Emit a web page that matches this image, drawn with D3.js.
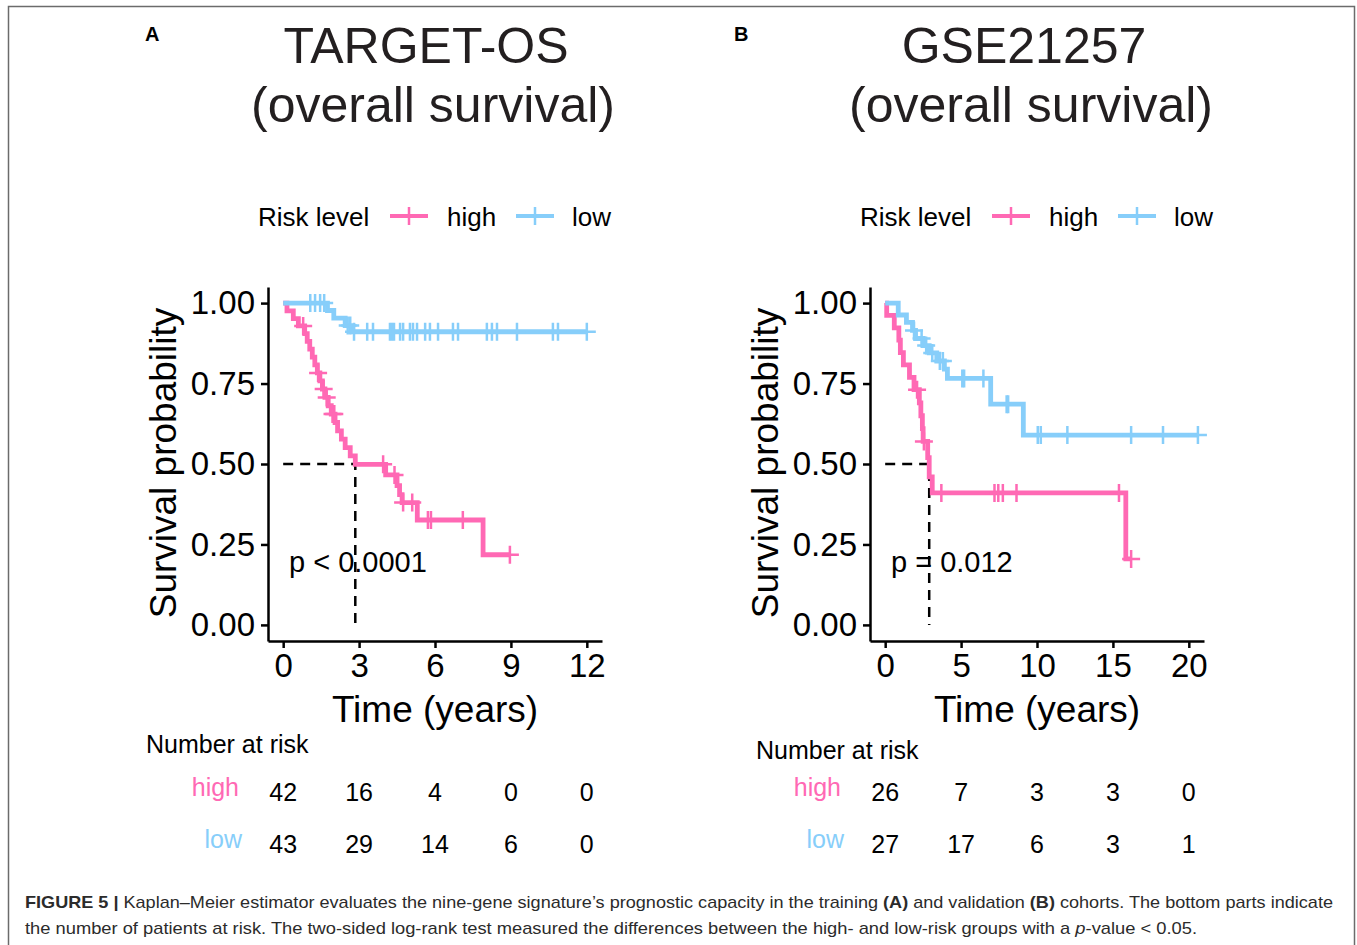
<!DOCTYPE html>
<html><head><meta charset="utf-8">
<script src="https://cdn.jsdelivr.net/npm/d3@7/dist/d3.min.js"></script>
<style>body{margin:0;background:#fff}svg{display:block}text{font-family:"Liberation Sans",Arial,Helvetica,sans-serif}</style>
</head><body><svg id="c" width="1357" height="945"></svg>
<script>
// ---------- DATA ----------
const groups = ["high", "low"];
const survTicks = [0, 0.25, 0.5, 0.75, 1];
const survTickLabels = ["0.00", "0.25", "0.50", "0.75", "1.00"];

// Panel A: TARGET-OS
const timeTicksA = [0, 3, 6, 9, 12];
const highA_time = [0, 0.15, 0.4, 0.6, 0.85, 0.95, 1.05, 1.15, 1.25, 1.35, 1.45, 1.55, 1.65, 1.78, 1.9, 2.05, 2.15, 2.3, 2.45, 2.65, 2.85, 4.05, 4.5, 4.6, 4.7, 5.3, 7.9];
const highA_surv = [1, 0.976, 0.952, 0.929, 0.905, 0.881, 0.857, 0.832, 0.808, 0.783, 0.758, 0.733, 0.707, 0.681, 0.655, 0.629, 0.603, 0.577, 0.551, 0.525, 0.499, 0.466, 0.433, 0.405, 0.38, 0.326, 0.218];
const highA_end = 8.96;
const highA_censor = [0.79, 1.38, 1.6, 1.72, 1.95, 2.02, 3.95, 4.4, 4.74, 5.1, 5.72, 5.84, 7.1, 8.96];
const lowA_time = [0, 1.75, 2.0, 2.45, 2.75];
const lowA_surv = [1, 0.977, 0.953, 0.93, 0.911];
const lowA_end = 12.0;
const lowA_censor = [1.07, 1.26, 1.46, 1.62, 2.55, 2.65, 2.8, 3.32, 3.55, 4.22, 4.3, 4.38, 4.62, 4.74, 5.01, 5.13, 5.29, 5.61, 5.8, 6.12, 6.71, 6.91, 8.05, 8.25, 8.45, 9.24, 10.66, 10.86, 12.0];
const riskA_high = [42, 16, 4, 0, 0];
const riskA_low = [43, 29, 14, 6, 0];
const pTextA = "p < 0.0001";

// Panel B: GSE21257
const timeTicksB = [0, 5, 10, 15, 20];
const highB_time = [0, 0.1, 0.6, 0.9, 1.0, 1.2, 1.6, 1.9, 2.25, 2.35, 2.45, 2.5, 2.8, 2.9, 3.1, 15.85];
const highB_surv = [1, 0.962, 0.923, 0.885, 0.846, 0.808, 0.769, 0.731, 0.69, 0.65, 0.61, 0.57, 0.52, 0.46, 0.41, 0.205];
const highB_end = 16.2;
const highB_censor = [2.1, 2.55, 3.7, 7.2, 7.45, 7.75, 8.65, 15.4, 16.2];
const lowB_time = [0, 0.86, 1.4, 1.8, 2.0, 2.5, 2.9, 3.4, 3.9, 4.1, 6.95, 9.1];
const lowB_surv = [1, 0.963, 0.94, 0.915, 0.89, 0.868, 0.845, 0.82, 0.795, 0.766, 0.686, 0.59];
const lowB_end = 20.6;
const lowB_censor = [1.9, 2.4, 2.7, 3.1, 3.6, 3.8, 5.08, 5.2, 6.47, 8.0, 8.1, 10.05, 10.25, 12.0, 16.2, 18.3, 20.6];
const riskB_high = [26, 7, 3, 3, 0];
const riskB_low = [27, 17, 6, 3, 1];
const pTextB = "p = 0.012";

const colors = {high: "#FF69B4", low: "#87CEFA"};

// ---------- DRAW ----------
const svg = d3.select("#c");
svg.append("rect").attr("x", 8.5).attr("y", 6.5).attr("width", 1346).attr("height", 980)
  .attr("fill", "none").attr("stroke", "#6b6b6b").attr("stroke-width", 1.5);

function survAt(times, survs, t) {
  let s = survs[0];
  for (let i = 0; i < times.length; i++) if (times[i] <= t) s = survs[i];
  return s;
}

function panel(cfg) {
  const g = svg.append("g").attr("transform", `translate(${cfg.dx},0)`);
  const x = d3.scaleLinear().domain(cfg.xdom).range([268, 602]);
  const y = d3.scaleLinear().domain([-0.05, 1.05]).range([641, 287]);

  g.append("text").attr("x", cfg.letterX).attr("y", 41).attr("font-size", 20).attr("font-weight", "bold").text(cfg.letter);
  g.append("text").attr("x", cfg.t1x).attr("y", 63).attr("font-size", 50).attr("fill", "#231f20").attr("text-anchor", "middle").text(cfg.title1);
  g.append("text").attr("x", cfg.t2x).attr("y", 122).attr("font-size", 50).attr("fill", "#231f20").attr("text-anchor", "middle").text("(overall survival)");

  // legend
  const lg = g.append("g");
  lg.append("text").attr("x", 258).attr("y", 226).attr("font-size", 26).text("Risk level");
  const keyX = {high: 390, low: 516}, labX = {high: 447, low: 572};
  groups.forEach(k => {
    lg.append("line").attr("x1", keyX[k]).attr("x2", keyX[k] + 38).attr("y1", 216).attr("y2", 216)
      .attr("stroke", colors[k]).attr("stroke-width", 4);
    lg.append("line").attr("x1", keyX[k] + 19).attr("x2", keyX[k] + 19).attr("y1", 207).attr("y2", 225)
      .attr("stroke", colors[k]).attr("stroke-width", 2.5);
    lg.append("text").attr("x", labX[k]).attr("y", 226).attr("font-size", 26).text(k);
  });

  // axes
  const yAxis = d3.axisLeft(y).tickValues(survTicks).tickFormat((d, i) => survTickLabels[i]).tickSize(7).tickSizeOuter(0).tickPadding(6);
  const ya = g.append("g").attr("transform", "translate(268,0)").call(yAxis);
  ya.selectAll("text").attr("font-size", 33).attr("fill", "#000").attr("font-family", '"Liberation Sans",Arial,sans-serif');
  const xAxis = d3.axisBottom(x).tickValues(cfg.ticks).tickSize(7).tickSizeOuter(0).tickPadding(6);
  const xa = g.append("g").attr("transform", "translate(0,641)").call(xAxis);
  xa.selectAll("text").attr("font-size", 33).attr("fill", "#000").attr("font-family", '"Liberation Sans",Arial,sans-serif');
  [ya, xa].forEach(a => {
    a.select(".domain").attr("stroke", "#000").attr("stroke-width", 2.5);
    a.selectAll(".tick line").attr("stroke", "#000").attr("stroke-width", 2.5);
  });

  g.append("text").attr("transform", "translate(176,463) rotate(-90)").attr("text-anchor", "middle")
    .attr("font-size", 37).text("Survival probability");
  g.append("text").attr("x", 435).attr("y", 722).attr("text-anchor", "middle").attr("font-size", 37).text("Time (years)");

  // median dashed lines
  const med = cfg.high.time.find((t, i) => cfg.high.surv[i] <= 0.5);
  g.append("path").attr("d", `M${x(0)},${y(0.5)}H${x(med)}V${y(0)}`).attr("fill", "none")
    .attr("stroke", "#000").attr("stroke-width", 2.5).attr("stroke-dasharray", "10,7");

  // curves
  const line = d3.line().x(d => x(d[0])).y(d => y(d[1])).curve(d3.curveStepAfter);
  groups.forEach(k => {
    const c = cfg[k];
    const pts = c.time.map((t, i) => [t, c.surv[i]]);
    pts.push([c.end, c.surv[c.surv.length - 1]]);
    g.append("path").attr("d", line(pts)).attr("fill", "none").attr("stroke", colors[k]).attr("stroke-width", 4.8);
    g.append("g").selectAll("path").data(c.censor).join("path")
      .attr("d", t => { const cx = x(t), cy = y(survAt(c.time, c.surv, t)); return `M${cx - 9},${cy}H${cx + 9}M${cx},${cy - 9}V${cy + 9}`; })
      .attr("stroke", colors[k]).attr("stroke-width", 2.5).attr("fill", "none");
  });

  g.append("text").attr("x", 289).attr("y", 572).attr("font-size", 29).text(cfg.p);

  // risk table
  g.append("text").attr("x", cfg.narx).attr("y", cfg.nary).attr("font-size", 25).text("Number at risk");
  const rows = [{k: "high", v: cfg.riskHigh, y: 801, ly: 796, lx: 239}, {k: "low", v: cfg.riskLow, y: 853, ly: 848, lx: 242}];
  rows.forEach(r => {
    g.append("text").attr("x", r.lx).attr("y", r.ly).attr("text-anchor", "end").attr("font-size", 25).attr("fill", colors[r.k]).text(r.k);
    g.append("g").selectAll("text").data(r.v).join("text")
      .attr("x", (d, i) => x(cfg.ticks[i])).attr("y", r.y).attr("text-anchor", "middle").attr("font-size", 25).text(d => d);
  });
}

panel({dx: 0, letter: "A", letterX: 145, title1: "TARGET-OS", t1x: 426, t2x: 433, xdom: [-0.6, 12.6], ticks: timeTicksA,
  high: {time: highA_time, surv: highA_surv, end: highA_end, censor: highA_censor},
  low: {time: lowA_time, surv: lowA_surv, end: lowA_end, censor: lowA_censor},
  riskHigh: riskA_high, riskLow: riskA_low, p: pTextA, narx: 146, nary: 753});
panel({dx: 602, letter: "B", letterX: 132, title1: "GSE21257", t1x: 422, t2x: 429, xdom: [-1, 21], ticks: timeTicksB,
  high: {time: highB_time, surv: highB_surv, end: highB_end, censor: highB_censor},
  low: {time: lowB_time, surv: lowB_surv, end: lowB_end, censor: lowB_censor},
  riskHigh: riskB_high, riskLow: riskB_low, p: pTextB, narx: 154, nary: 759});

// caption
const cap1 = svg.append("text").attr("x", 25).attr("y", 908).attr("font-size", 17).attr("fill", "#2b2b2b")
  .attr("textLength", 1308).attr("lengthAdjust", "spacingAndGlyphs");
cap1.append("tspan").attr("font-weight", "bold").text("FIGURE 5 | ");
cap1.append("tspan").text("Kaplan–Meier estimator evaluates the nine-gene signature’s prognostic capacity in the training ");
cap1.append("tspan").attr("font-weight", "bold").text("(A)");
cap1.append("tspan").text(" and validation ");
cap1.append("tspan").attr("font-weight", "bold").text("(B)");
cap1.append("tspan").text(" cohorts. The bottom parts indicate");
const cap2 = svg.append("text").attr("x", 25).attr("y", 934).attr("font-size", 17).attr("fill", "#2b2b2b")
  .attr("textLength", 1172).attr("lengthAdjust", "spacingAndGlyphs");
cap2.append("tspan").text("the number of patients at risk. The two-sided log-rank test measured the differences between the high- and low-risk groups with a ");
cap2.append("tspan").attr("font-style", "italic").text("p");
cap2.append("tspan").text("-value < 0.05.");
</script></body></html>
